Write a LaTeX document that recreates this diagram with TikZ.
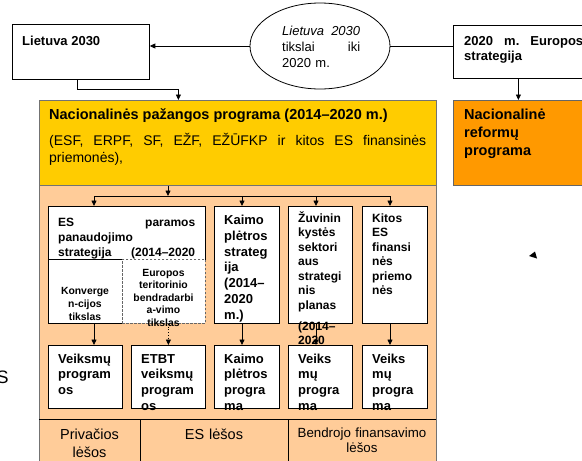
\documentclass[tikz,border=0pt]{standalone}
\usepackage{fontspec}
\setmainfont{Liberation Sans}
\usetikzlibrary{arrows.meta,shapes.geometric}
\definecolor{geltona}{HTML}{FFCC00}
\definecolor{persikas}{HTML}{FFCC99}
\definecolor{oranzine}{HTML}{FF9900}
\newcommand{\fs}[2]{\fontsize{#1}{#2}\selectfont}

\begin{document}
\begin{tikzpicture}[x=1pt, y=-1pt, >={Triangle[length=5.5pt,width=5pt]},
  box/.style={draw, fill=white, anchor=north west, inner sep=0pt, line width=0.8pt},
  t/.style={anchor=base west, inner sep=0pt, align=left},
  tc/.style={anchor=base, inner sep=0pt, align=center},
  hd/.style={font=\bfseries\fs{13}{15.5}},
  sm/.style={font=\bfseries\fs{12}{14.5}},
  pg/.style={font=\bfseries\fs{13}{15.7}, text width=60}]
  \useasboundingbox (0,0) rectangle (582,461);
  \clip (0,0) rectangle (582,461);

  % top row
  \node[box, minimum width=137, minimum height=55] (lt) at (12,24) {};
  \node[t, hd] (lt-t) at (22,45) {Lietuva 2030};
  \node[draw, ellipse, line width=0.8pt, inner sep=0pt, minimum width=140, minimum height=86] (ell) at (320,46) {};
  \node[t, text width=78, font=\fs{13}{16}] (ell-t) at (282,35)
    {\textit{Lietuva\hfill 2030}\\tikslai\hfill iki\\2020 m.};
  \node[box, minimum width=140, minimum height=53] (eu) at (453,25) {};
  \node[t, hd, text width=119] (eu-t) at (464,45) {2020\hfill m.\hfill Europos\\strategija};
  \node[box, fill=oranzine, draw=black!60, minimum width=140, minimum height=85] (nrp) at (453,100) {};
  \node[t, text width=110, font=\bfseries\fs{14.5}{18}] (nrp-t) at (464,119) {Nacionalinė\\reformų\\programa};

  % national programme
  \node[box, fill=persikas, draw=black!55, minimum width=397, minimum height=300] (pr) at (39,185) {};
  \node[box, fill=geltona, draw=black!55, minimum width=397, minimum height=85] (np) at (39,100) {};
  \node[t, font=\bfseries\fs{14.5}{17}] (np-t) at (49,119) {Nacionalinės pažangos programa (2014–2020 m.)};
  \node[t, text width=377, font=\fs{14}{17}] (np-b) at (49,145)
    {(ESF,\hfill ERPF,\hfill SF,\hfill EŽF,\hfill EŽŪFKP\hfill ir\hfill kitos\hfill ES\hfill finansinės\\priemonės),};

  % strategies
  \node[box, minimum width=157, minimum height=53] (eps) at (48,206) {};
  \node[t, sm, text width=137, font=\bfseries\fs{12}{15}] (eps-t) at (58,226)
    {ES\hfill paramos\\panaudojimo\\strategija\hfill(2014–2020};
  \node[box, minimum width=74, minimum height=64] (konv) at (48,259) {};
  \node[tc, text width=70, font=\bfseries\fs{10.4}{13}] (konv-t) at (85,294) {Konverge\\n-cijos\\tikslas};
  \node[box, draw=black!60, dash pattern=on 2.5pt off 1.5pt, minimum width=83, minimum height=64] (etp) at (122,259) {};
  \node[tc, text width=80, font=\bfseries\fs{10.4}{12.5}] (etp-t) at (163.5,276)
    {Europos\\teritorinio\\bendradarbi\\a-vimo\\tikslas};
  \node[box, minimum width=65, minimum height=117] (kps) at (214,206) {};
  \node[t, text width=50, font=\bfseries\fs{13}{15.8}] (kps-t) at (224,224.5)
    {Kaimo\\plėtros\\strateg\\ija\\(2014–\\2020\\m.)};
  \node[box, minimum width=64, minimum height=117] (zuv) at (288,206) {};
  \node[t, sm, text width=50] (zuv-t) at (298,222)
    {Žuvinin\\kystės\\sektori\\aus\\strategi\\nis\\planas};
  \node[box, minimum width=65, minimum height=117] (kit) at (362,206) {};
  \node[t, sm, text width=50] (kit-t) at (372,222)
    {Kitos\\ES\\finansi\\nės\\priemo\\nės};

  % programmes
  \node[box, minimum width=74, minimum height=63] (vp1) at (48,345) {};
  \node[box, minimum width=74, minimum height=63] (etbt) at (131,345) {};
  \node[box, minimum width=65, minimum height=63] (kpp) at (214,345) {};
  \node[box, minimum width=64, minimum height=63] (vp2) at (288,345) {};
  \node[box, minimum width=65, minimum height=63] (vp3) at (362,345) {};
  \node[t, pg] (vp1-t) at (58,363) {Veiksmų\\program\\os};
  \node[t, pg] (etbt-t) at (141,363) {ETBT\\veiksmų\\program\\os};
  \node[t, pg] (kpp-t) at (224,363) {Kaimo\\plėtros\\progra\\ma};
  \node[t, pg] (vp2-t) at (298,363) {Veiks\\mų\\progra\\ma};
  \node[t, pg] (vp3-t) at (372,363) {Veiks\\mų\\progra\\ma};

  % connectors
  \draw[->, line width=0.8pt] (ell.west) -- (ell.west -| lt.east);
  \draw[line width=0.8pt] (ell.east) -- (ell.east -| eu.west);
  \draw[->, line width=0.8pt] ([xshift=-5]eu.south) -- ([xshift=-5]nrp.north);
  \draw[->, line width=0.8pt] ([xshift=-3.5]lt.south) -- ++(0,10) -| ([xshift=-59.5]np.north);
  \coordinate (bus) at (168,196);
  \draw[->, line width=0.8pt] (np.south -| bus) -- (bus);
  \foreach \n/\d in {eps/46,kps/28,zuv/28,kit/28}
    \coordinate (\n-in) at ([xshift=\d]\n.north west);
  \draw[line width=0.8pt] (eps-in |- bus) -- (kit-in |- bus);
  \foreach \n in {eps,kps,zuv,kit}
    \draw[->, line width=0.8pt] (\n-in |- bus) -- (\n-in);
  \draw[->, line width=0.8pt] ([xshift=46]konv.south west) -- ([xshift=46]vp1.north west);
  \draw[->, line width=0.8pt, dotted] (etbt.north |- etp.south) -- (etbt.north);
  \foreach \a/\b in {kps/kpp,zuv/vp2,kit/vp3}
    \draw[->, line width=0.8pt] ([xshift=28]\a.south west) -- ([xshift=28]\b.north west);
  \node[t, sm, text width=50, font=\bfseries\fs{12}{14}] (zuv-m) at (298,330) {(2014–\\2020};

  % funding
  \draw[line width=0.8pt] (39,419) -- (436,419) (140,419) -- (140,470) (288,419) -- (288,470);
  \node[tc, text width=95, font=\fs{14.5}{18}] (f1) at (89.5,439) {Privačios\\lėšos};
  \node[tc, text width=140, font=\fs{14.5}{18}] (f2) at (214,439) {ES lėšos};
  \node[tc, text width=145, font=\fs{13.3}{15.7}] (f3) at (362,437) {Bendrojo finansavimo\\lėšos};

  % loose bits at the edges
  \fill (529,256) -- (535,251.5) -- (537,258.5) -- cycle;
  \node[anchor=base west, inner sep=0pt, font=\fs{18}{18}] (s) at (-3.5,383) {S};
\end{tikzpicture}
\end{document}
